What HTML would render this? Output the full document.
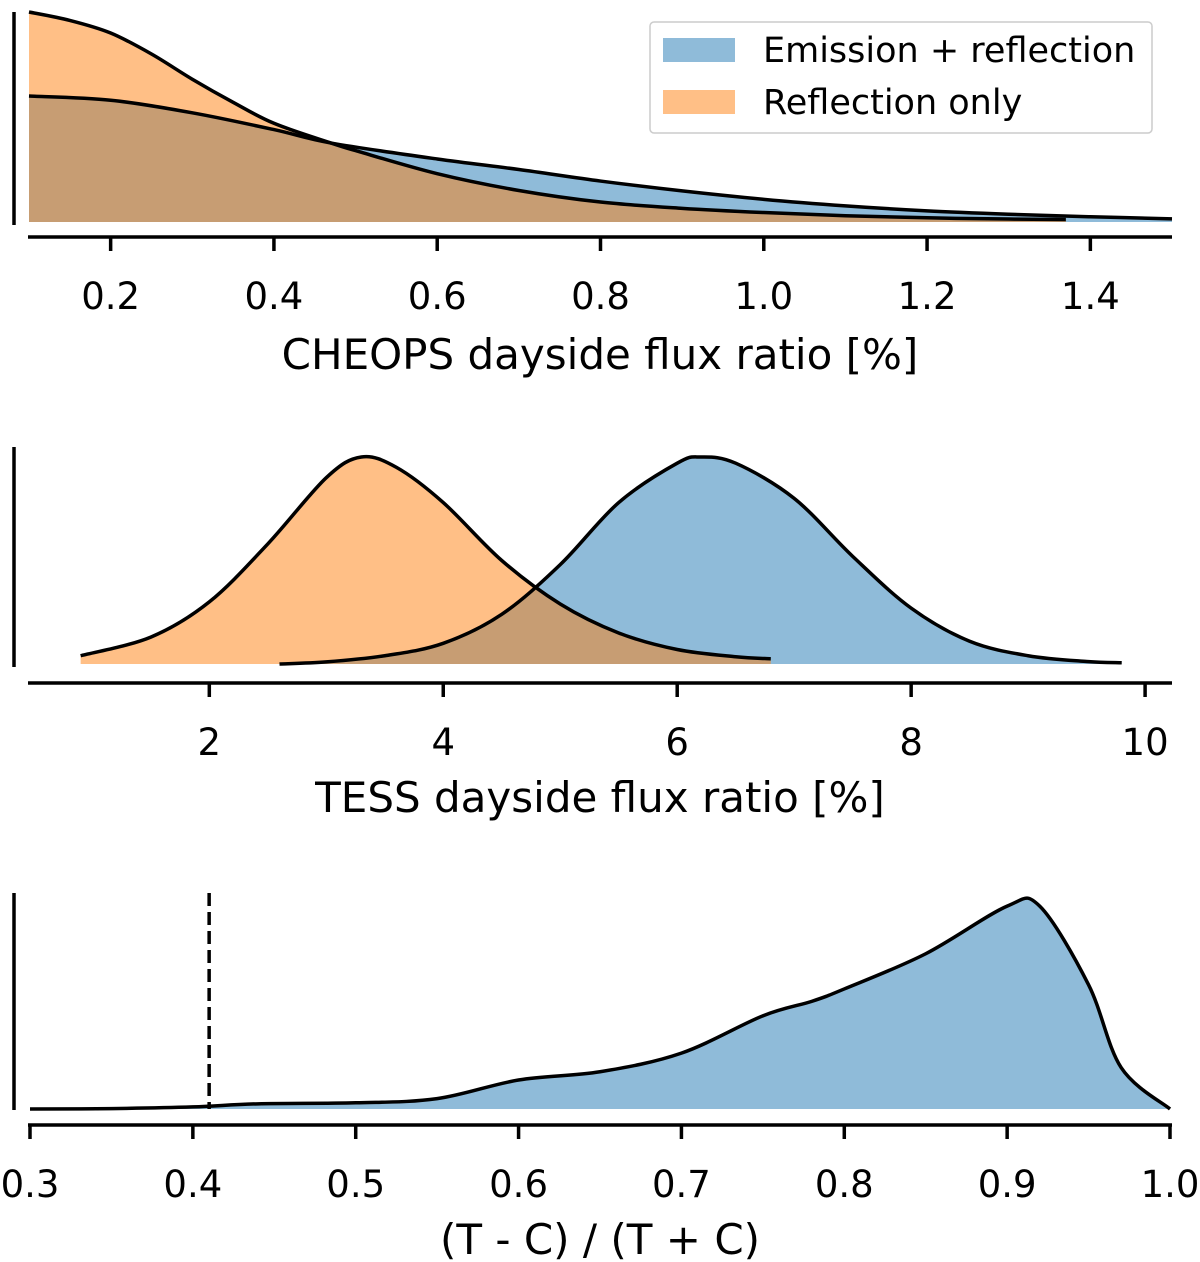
<!DOCTYPE html>
<html><head><meta charset="utf-8">
<style>
body{margin:0;background:#fff}
svg{display:block;font-family:"DejaVu Sans","Liberation Sans",sans-serif}
</style></head>
<body>
<svg id="fig" width="1200" height="1262" viewBox="0 0 1200 1262" xmlns="http://www.w3.org/2000/svg"></svg>
<script>
// Panel 1: CHEOPS
const p1X_orange=[0.1,0.15,0.2,0.25,0.3,0.35,0.4,0.47,0.5,0.6,0.7,0.8,0.9,1.0,1.1,1.2,1.3,1.37];
const p1Y_orange=[1.0,0.96,0.9,0.8,0.68,0.57,0.47,0.376,0.34,0.23,0.15,0.095,0.065,0.045,0.03,0.02,0.014,0.012];
const p1X_blue=[0.1,0.2,0.3,0.4,0.47,0.6,0.7,0.8,0.9,1.0,1.1,1.2,1.3,1.4,1.5];
const p1Y_blue=[0.6,0.58,0.52,0.44,0.376,0.3,0.25,0.195,0.148,0.108,0.077,0.053,0.037,0.025,0.015];
const p1Ticks=[0.2,0.4,0.6,0.8,1.0,1.2,1.4];
// Panel 2: TESS
const p2X_orange=[0.9,1.5,2,2.5,3,3.3,3.6,4,4.5,5,5.5,6,6.5,6.8];
const p2Y_orange=[0.04,0.13,0.3,0.58,0.9,1.0,0.95,0.78,0.5,0.29,0.15,0.07,0.035,0.025];
const p2X_blue=[2.6,3,3.5,4,4.5,5,5.5,6,6.2,6.5,7,7.5,8,8.5,9,9.5,9.8];
const p2Y_blue=[0.0,0.01,0.04,0.1,0.24,0.48,0.78,0.97,1.0,0.97,0.8,0.52,0.27,0.11,0.04,0.012,0.006];
const p2Ticks=[2,4,6,8,10];
// Panel 3: ratio
const p3X=[0.3,0.35,0.4,0.44,0.5,0.55,0.6,0.65,0.7,0.75,0.78,0.8,0.85,0.9,0.92,0.95,0.97,1.0];
const p3Y=[0.0,0.002,0.01,0.025,0.03,0.05,0.14,0.18,0.27,0.45,0.52,0.58,0.75,0.98,0.98,0.6,0.2,0.0];
const p3Ticks=[0.3,0.4,0.5,0.6,0.7,0.8,0.9,1.0];
const p3Dashed=0.41;

const NS="http://www.w3.org/2000/svg";
const svg=document.getElementById('fig');
function el(t,a,p){const e=document.createElementNS(NS,t);for(const k in a)e.setAttribute(k,a[k]);(p||svg).appendChild(e);return e;}
function smooth(pts){let d=`M${pts[0][0]},${pts[0][1]}`;for(let i=0;i<pts.length-1;i++){const p0=pts[Math.max(0,i-1)],p1=pts[i],p2=pts[i+1],p3=pts[Math.min(pts.length-1,i+2)];
const c1=[p1[0]+(p2[0]-p0[0])/6,p1[1]+(p2[1]-p0[1])/6],c2=[p2[0]-(p3[0]-p1[0])/6,p2[1]-(p3[1]-p1[1])/6];
d+=` C${c1[0]},${c1[1]} ${c2[0]},${c2[1]} ${p2[0]},${p2[1]}`;}return d;}
function panel(cfg){
  const sx=v=>cfg.px0+(v-cfg.v0)*(cfg.px1-cfg.px0)/(cfg.v1-cfg.v0);
  const sy=v=>cfg.base-v*cfg.h;
  const sp=el('line',{x1:14,x2:14,y1:cfg.spTop,y2:cfg.spBot,stroke:'#000','stroke-width':3.5});
  
  const lines=[];
  cfg.series.forEach(s=>{
    const pts=s.x.map((x,i)=>[sx(x),sy(s.y[i])]);
    const line=smooth(pts);
    const f=el('path',{d:line+` L${pts[pts.length-1][0]},${cfg.base} L${pts[0][0]},${cfg.base} Z`,fill:s.c,'fill-opacity':0.5,stroke:'none'});
    
    lines.push([s.n,line]);
  });
  lines.forEach(([n,line])=>{
    const l=el('path',{d:line,fill:'none',stroke:'#000','stroke-width':3.5});
    
  });
  if(cfg.dash!==undefined){const d=el('line',{x1:sx(cfg.dash),x2:sx(cfg.dash),y1:cfg.spTop,y2:cfg.base,stroke:'#000','stroke-width':3.5,'stroke-dasharray':'13,6'});
    }
  const ax=el('line',{x1:28,x2:1172,y1:cfg.axY,y2:cfg.axY,stroke:'#000','stroke-width':3.5});
  
  cfg.ticks.forEach(t=>{const x=sx(t);el('line',{x1:x,x2:x,y1:cfg.axY,y2:cfg.axY+14,stroke:'#000','stroke-width':3.5});
    const tx=el('text',{x:x,y:cfg.axY+72,'font-size':37,'text-anchor':'middle'});tx.textContent=cfg.fmt(t);
    });
  const lab=el('text',{x:600,y:cfg.labY,'font-size':42,'text-anchor':'middle'});lab.textContent=cfg.label;
  
}
const B='#1f77b4',O='#ff7f0e';
panel({name:'cheops',v0:0.1,v1:1.5,px0:29,px1:1172,base:222,h:210,spTop:12,spBot:225,axY:237,labY:369,
 label:'CHEOPS dayside flux ratio [%]',ticks:p1Ticks,fmt:t=>t.toFixed(1),
 series:[{n:'emission',x:p1X_blue,y:p1Y_blue,c:B},{n:'reflection',x:p1X_orange,y:p1Y_orange,c:O}]});
panel({name:'tess',v0:0.45,v1:10.23,px0:28,px1:1172,base:664,h:207,spTop:447,spBot:667,axY:683,labY:812,
 label:'TESS dayside flux ratio [%]',ticks:p2Ticks,fmt:t=>String(t),
 series:[{n:'emission',x:p2X_blue,y:p2Y_blue,c:B},{n:'reflection',x:p2X_orange,y:p2Y_orange,c:O}]});
panel({name:'ratio',v0:0.3,v1:1.0,px0:30,px1:1170,base:1109,h:207,spTop:893,spBot:1110,axY:1125,labY:1254,dash:p3Dashed,
 label:'(T - C) / (T + C)',ticks:p3Ticks,fmt:t=>t.toFixed(1),
 series:[{n:'emission',x:p3X,y:p3Y,c:B}]});
// legend
const lg=el('g',{});
el('rect',{x:650,y:22,width:502,height:111,rx:4,fill:'#fff','fill-opacity':0.8,stroke:'#ccc','stroke-width':1.5},lg);
el('rect',{x:663,y:38,width:72,height:24,fill:B,'fill-opacity':0.5},lg);
el('rect',{x:663,y:90,width:72,height:24,fill:O,'fill-opacity':0.5},lg);
const t1=el('text',{x:763,y:62,'font-size':35},lg);t1.textContent='Emission + reflection';

const t2=el('text',{x:763,y:114,'font-size':35},lg);t2.textContent='Reflection only';

</script>
</body></html>
